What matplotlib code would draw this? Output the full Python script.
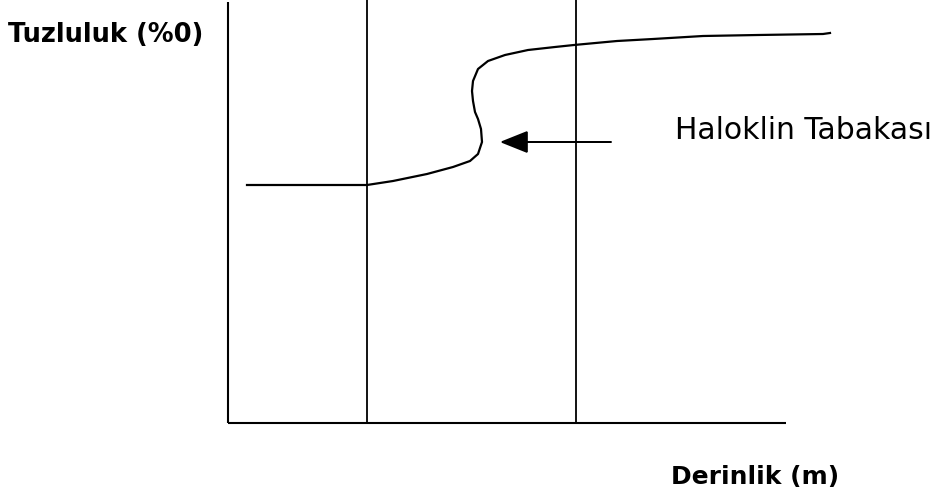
import matplotlib
matplotlib.use("Agg")
import matplotlib.pyplot as plt

W, H = 939, 502

# salinity profile curve (pixel-space diagram coordinates)
curve_x = [247, 300, 367, 393, 427, 453, 470, 478, 482, 481, 478, 475, 473, 472, 473, 478, 488, 505, 528, 555, 574, 617, 653, 703, 758, 823, 830]
curve_y = [186, 186, 186, 182, 175, 168, 162, 155, 143, 130, 120, 113, 102, 92, 82, 70, 62, 56, 51, 48, 46, 42, 40, 37, 36, 35, 34]

# vertical reference lines
vline_x = [367, 576]

ylabel = "Tuzluluk (%0)"
xlabel = "Derinlik (m)"
annot = "Haloklin Tabakası"

fig = plt.figure(figsize=(W / 100, H / 100), dpi=100)
ax = fig.add_axes([0, 0, 1, 1])
ax.set_xlim(0, W)
ax.set_ylim(H, 0)
ax.axis("off")

lw = 1.5
# axes
ax.plot([228, 228], [3, 424], color="black", lw=lw, solid_capstyle="butt")
ax.plot([228, 786], [424, 424], color="black", lw=lw, solid_capstyle="butt")
for vx in vline_x:
    ax.plot([vx, vx], [0, 424], color="black", lw=1.3, solid_capstyle="butt")

ax.plot(curve_x, curve_y, color="black", lw=1.6, solid_joinstyle="round")

ax.arrow(611, 143, -109, 0, head_width=20, head_length=25,
         length_includes_head=True, fc="black", ec="black", lw=1.2)

ax.text(8, 35, ylabel, fontsize=18.5, fontweight="bold", ha="left", va="center",
        family="DejaVu Sans")
ax.text(671, 477, xlabel, fontsize=18, fontweight="bold", ha="left", va="center",
        family="DejaVu Sans")
ax.text(675, 131, annot, fontsize=21.5, ha="left", va="center", family="DejaVu Sans")

fig.savefig("out.png", dpi=100)
